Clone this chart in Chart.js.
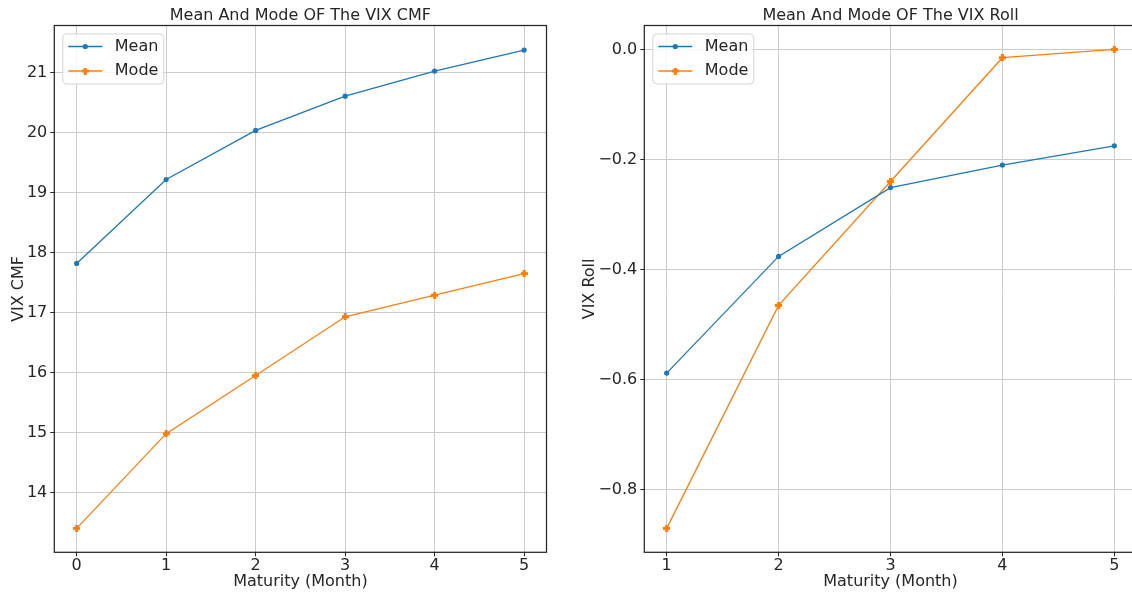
<!DOCTYPE html>
<html>
<head>
<meta charset="utf-8">
<script src="https://cdn.jsdelivr.net/npm/chart.js@4.4.0/dist/chart.umd.min.js"></script>
<style>
  html, body { margin: 0; padding: 0; background: #fff; overflow: hidden; }
  #wrap { position: relative; width: 1132px; height: 596px; overflow: hidden; }
  #cmf { position: absolute; left: 0; top: 0; }
  #roll { position: absolute; left: 566px; top: 0; }
</style>
</head>
<body>
<div id="wrap">
  <canvas id="cmf" width="566" height="596"></canvas>
  <canvas id="roll" width="582" height="596"></canvas>
</div>
<script>
// left panel: VIX CMF
const cmfMaturity = [0, 1, 2, 3, 4, 5];
const cmfMean = [17.82, 19.22, 20.04, 20.61, 21.03, 21.38];
const cmfMode = [13.40, 14.98, 15.95, 16.93, 17.29, 17.65];
const cmfYTicks = [14, 15, 16, 17, 18, 19, 20, 21];

// right panel: VIX Roll
const rollMaturity = [1, 2, 3, 4, 5];
const rollMean = [-0.588, -0.376, -0.251, -0.210, -0.175];
const rollMode = [-0.870, -0.465, -0.240, -0.015, 0.000];
const rollYTicks = [-0.8, -0.6, -0.4, -0.2, 0.0];

const FONT = '"DejaVu Sans", sans-serif';
const TEXT = '#262626';
const BLUE = '#1f77b4';
const ORANGE = '#ff7f0e';

// filled plus marker like matplotlib 'P'
function plusMarker(color) {
  const c = document.createElement('canvas');
  c.width = 7; c.height = 7;
  const g = c.getContext('2d');
  g.fillStyle = color;
  g.fillRect(2, 0, 3, 7);
  g.fillRect(0, 2, 7, 3);
  return c;
}
const modeMarker = plusMarker(ORANGE);

const framePlugin = {
  id: 'frame',
  afterDatasetsDraw(chart) {
    const ctx = chart.ctx;
    const a = chart.chartArea;
    ctx.save();
    ctx.strokeStyle = TEXT;
    ctx.lineWidth = 1.25;
    ctx.strokeRect(a.left, a.top, a.right - a.left, a.bottom - a.top);

    // title over the axes
    ctx.fillStyle = TEXT;
    ctx.font = '16px ' + FONT;
    ctx.textAlign = 'center';
    ctx.textBaseline = 'middle';
    ctx.fillText(chart.options.plugins.frame.title, (a.left + a.right) / 2, 15.5);

    // legend box inside upper left
    const x = a.left + 8.5, y = a.top + 8.5;
    ctx.beginPath();
    ctx.roundRect(x, y, 101, 50, 4);
    ctx.fillStyle = 'rgba(255,255,255,0.8)';
    ctx.fill();
    ctx.strokeStyle = '#d5d5d5';
    ctx.lineWidth = 1;
    ctx.stroke();

    chart.data.datasets.forEach((ds, i) => {
      const ry = a.top + 21 + i * 24.5;
      ctx.strokeStyle = ds.borderColor;
      ctx.lineWidth = 1.3;
      ctx.beginPath();
      ctx.moveTo(a.left + 14, ry);
      ctx.lineTo(a.left + 48, ry);
      ctx.stroke();
      if (ds.pointStyle === 'circle') {
        ctx.fillStyle = ds.borderColor;
        ctx.beginPath();
        ctx.arc(a.left + 31, ry, ds.pointRadius, 0, Math.PI * 2);
        ctx.fill();
      } else {
        ctx.drawImage(ds.pointStyle, a.left + 31 - 3.5, ry - 3.5);
      }
      ctx.fillStyle = TEXT;
      ctx.font = '16px ' + FONT;
      ctx.textAlign = 'left';
      ctx.textBaseline = 'middle';
      ctx.fillText(ds.label, a.left + 60.5, ry);
    });
    ctx.restore();
  }
};

function makeChart(id, cfg) {
  const ctx = document.getElementById(id).getContext('2d');
  return new Chart(ctx, {
    type: 'line',
    data: {
      datasets: [{
        label: 'Mean',
        data: cfg.xs.map((m, i) => ({ x: m, y: cfg.mean[i] })),
        borderColor: BLUE,
        backgroundColor: BLUE,
        borderWidth: 1.3,
        pointStyle: 'circle',
        pointRadius: 2.6,
        pointBorderWidth: 0,
        fill: false
      }, {
        label: 'Mode',
        data: cfg.xs.map((m, i) => ({ x: m, y: cfg.mode[i] })),
        borderColor: ORANGE,
        backgroundColor: ORANGE,
        borderWidth: 1.3,
        pointStyle: modeMarker,
        pointRadius: 3.5,
        fill: false
      }]
    },
    options: {
      responsive: false,
      animation: false,
      devicePixelRatio: 1,
      events: [],
      layout: { padding: { top: 25.5, right: cfg.padRight, left: 0, bottom: 0 } },
      plugins: {
        legend: { display: false },
        tooltip: { enabled: false },
        frame: { title: cfg.title }
      },
      scales: {
        x: {
          type: 'linear',
          min: cfg.xMin,
          max: cfg.xMax,
          afterBuildTicks: s => { s.ticks = cfg.xs.map(v => ({ value: v })); },
          afterFit: s => { s.height = 43.7; },
          grid: { color: '#cccccc', lineWidth: 1, tickColor: TEXT, tickLength: 4 },
          border: { display: false },
          ticks: { color: TEXT, font: { family: FONT, size: 16, lineHeight: 1 }, padding: 2, maxRotation: 0 },
          title: { display: true, text: 'Maturity (Month)', color: TEXT, font: { family: FONT, size: 16 }, padding: { top: 0, bottom: 5 } }
        },
        y: {
          type: 'linear',
          min: cfg.yMin,
          max: cfg.yMax,
          afterBuildTicks: s => { s.ticks = cfg.yTicks.map(v => ({ value: v })); },
          afterFit: s => { s.width = cfg.yWidth; },
          grid: { color: '#cccccc', lineWidth: 1, tickColor: TEXT, tickLength: 4 },
          border: { display: false },
          ticks: { color: TEXT, font: { family: FONT, size: 16 }, padding: 3, callback: cfg.fmt },
          title: { display: true, text: cfg.yTitle, color: TEXT, font: { family: FONT, size: 16 }, padding: { top: cfg.yTitlePad, bottom: 0 } }
        }
      }
    },
    plugins: [framePlugin]
  });
}

makeChart('cmf', {
  title: 'Mean And Mode OF The VIX CMF',
  yTitle: 'VIX CMF',
  xs: cmfMaturity, mean: cmfMean, mode: cmfMode, yTicks: cmfYTicks,
  xMin: -0.25, xMax: 5.25, yMin: 13.0, yMax: 21.79,
  yWidth: 54.3, padRight: 19.5, yTitlePad: 9,
  fmt: v => String(v)
});

makeChart('roll', {
  title: 'Mean And Mode OF The VIX Roll',
  yTitle: 'VIX Roll',
  xs: rollMaturity, mean: rollMean, mode: rollMode, yTicks: rollYTicks,
  xMin: 0.8, xMax: 5.2, yMin: -0.9135, yMax: 0.0435,
  yWidth: 78.3, padRight: 11.3, yTitlePad: 14,
  fmt: v => v.toFixed(1).replace('-', '\u2212')
});
</script>
</body>
</html>
